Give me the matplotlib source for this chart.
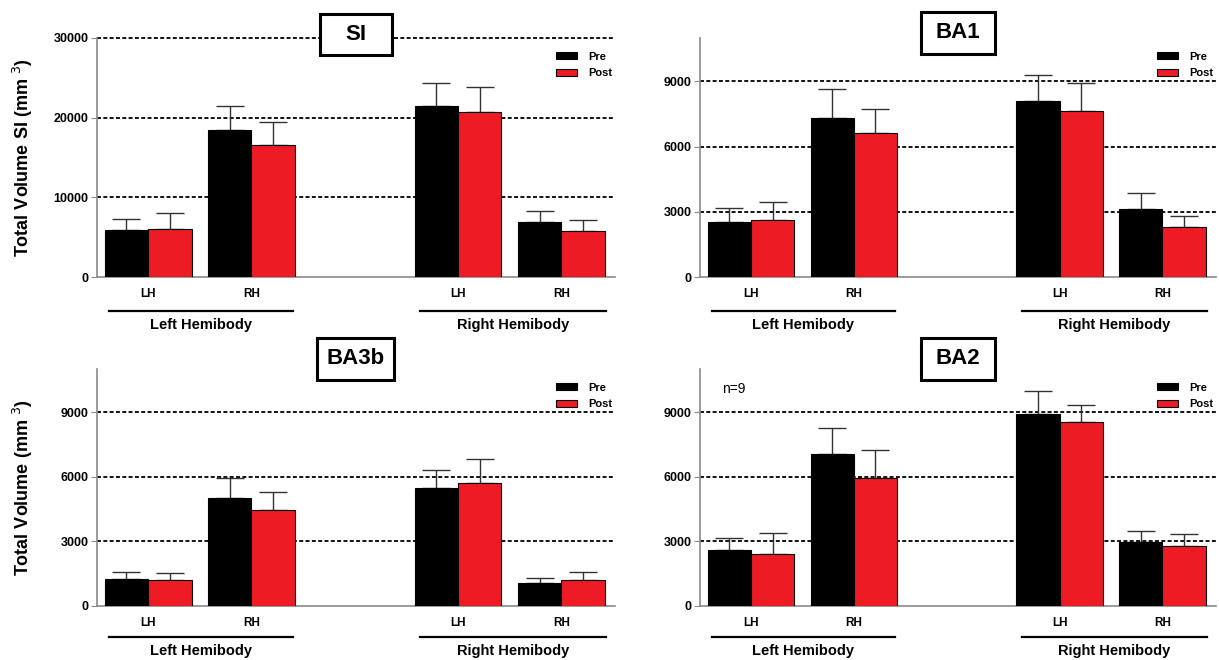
import matplotlib
matplotlib.use('Agg')
import matplotlib.pyplot as plt
from matplotlib.patches import Rectangle
import matplotlib.transforms as mtransforms

plt.rcParams['font.family'] = ['Liberation Sans', 'DejaVu Sans']

# bar order: Left Hemibody LH, Left Hemibody RH, Right Hemibody LH, Right Hemibody RH
categories = ['LH', 'RH', 'LH', 'RH']
groups = ['Left Hemibody', 'Right Hemibody']

si_pre = [5940, 18420, 21490, 6950]
si_pre_err = [1390, 3070, 2910, 1310]
si_post = [6030, 16600, 20650, 5820]
si_post_err = [1980, 2870, 3240, 1390]

ba1_pre = [2540, 7340, 8080, 3120]
ba1_pre_err = [630, 1310, 1210, 760]
ba1_post = [2615, 6630, 7660, 2290]
ba1_post_err = [835, 1090, 1260, 510]

ba3b_pre = [1260, 4990, 5500, 1080]
ba3b_pre_err = [330, 970, 800, 230]
ba3b_post = [1200, 4440, 5730, 1200]
ba3b_post_err = [340, 830, 1110, 400]

ba2_pre = [2620, 7070, 8900, 2990]
ba2_pre_err = [550, 1170, 1100, 510]
ba2_post = [2420, 5960, 8550, 2790]
ba2_post_err = [990, 1280, 770, 550]

W, H = 1219, 660
fig = plt.figure(figsize=(W / 100, H / 100), dpi=100)

# title, data, axes box in px (left, top, width, height), ymax, ytick step, ylabel,
# title box (w, h, dy), bracket / group label offsets below axis
panels = [
    ('SI', si_pre, si_pre_err, si_post, si_post_err, [97, 38, 518, 239], 30000, 10000,
     'Total Volume SI (mm $^{3}$)', (72, 41, -4), (34, 48)),
    ('BA1', ba1_pre, ba1_pre_err, ba1_post, ba1_post_err, [700, 38, 516, 239], 11000, 3000,
     None, (74, 42, -5), (34, 48)),
    ('BA3b', ba3b_pre, ba3b_pre_err, ba3b_post, ba3b_post_err, [97, 369, 518, 237], 11000, 3000,
     'Total Volume (mm $^{3}$)', (77, 42, -10), (31, 45)),
    ('BA2', ba2_pre, ba2_pre_err, ba2_post, ba2_post_err, [700, 369, 516, 237], 11000, 3000,
     None, (74, 42, -10), (31, 45)),
]

xpos = [0, 1, 3, 4]
bw = 0.42
red = '#ED1C24'
axcol = '#8a8a8a'

for title, pre, pre_err, post, post_err, box, ymax, ystep, ylabel, tbox, goff in panels:
    x0, y0, w, h = box
    ax = fig.add_axes([x0 / W, (H - y0 - h) / H, w / W, h / H])
    yt = list(range(0, ymax + 1, ystep))
    if ymax != 30000:
        yt = [0, 3000, 6000, 9000]
    for v in yt[1:]:
        ax.axhline(v, color='black', lw=1.3, ls=(0, (2.2, 1.3)), zorder=1, clip_on=False)
    ax.bar([p - bw / 2 for p in xpos], pre, bw, color='black', edgecolor='black', lw=0.8, zorder=3, label='Pre')
    ax.bar([p + bw / 2 for p in xpos], post, bw, color=red, edgecolor='black', lw=0.8, zorder=3, label='Post')
    ax.errorbar([p - bw / 2 for p in xpos], pre, yerr=[[0] * 4, pre_err], fmt='none',
                ecolor='#333333', elinewidth=1, capsize=10, capthick=1, zorder=2)
    ax.errorbar([p + bw / 2 for p in xpos], post, yerr=[[0] * 4, post_err], fmt='none',
                ecolor='#333333', elinewidth=1, capsize=10, capthick=1, zorder=2)

    ax.set_xlim(-0.495, 4.52)
    ax.set_ylim(0, ymax)
    ax.set_yticks(yt)
    ax.set_xticks(xpos)
    ax.set_xticklabels(categories, fontsize=8.5, fontweight='bold')
    ax.tick_params(axis='x', length=0, pad=8)
    ax.tick_params(axis='y', length=4, color=axcol, labelsize=9, pad=2)
    for lab in ax.get_yticklabels():
        lab.set_fontweight('bold')
    for s in ['top', 'right']:
        ax.spines[s].set_visible(False)
    for s in ['left', 'bottom']:
        ax.spines[s].set_color(axcol)
        ax.spines[s].set_linewidth(1.2)

    # group brackets and labels
    trans = mtransforms.blended_transform_factory(ax.transData, ax.transAxes)
    for (a, b), g in zip([(-0.38, 1.4), (2.63, 4.43)], groups):
        ax.plot([a, b], [-goff[0] / h, -goff[0] / h], color='black', lw=1.6, transform=trans, clip_on=False)
        ax.text((a + b) / 2, -goff[1] / h, g, transform=trans, ha='center', va='center',
                fontsize=10.5, fontweight='bold')

    # boxed title
    tw, th, dy = tbox
    cy = 1 - dy / h
    ax.add_patch(Rectangle((0.5 - tw / w / 2, cy - th / h / 2), tw / w, th / h, transform=ax.transAxes,
                           fc='white', ec='black', lw=2.2, clip_on=False, zorder=5))
    ax.text(0.5, cy, title, transform=ax.transAxes, ha='center', va='center',
            fontsize=16, fontweight='bold', zorder=6)

    ax.legend(loc='upper right', bbox_to_anchor=(1.014, 0.985), frameon=False,
              prop={'weight': 'bold', 'size': 8}, handlelength=1.9, handleheight=0.65,
              labelspacing=0.6, handletextpad=1.0)

    if ylabel:
        ax.set_ylabel(ylabel, fontsize=13, fontweight='bold')
        ax.yaxis.set_label_coords(-(x0 - 35) / w, 0.5)
    if title == 'BA2':
        ax.text(22 / w, 1 - 20 / h, 'n=9', transform=ax.transAxes, ha='left', va='center', fontsize=10)

fig.savefig('out.png', dpi=100)
